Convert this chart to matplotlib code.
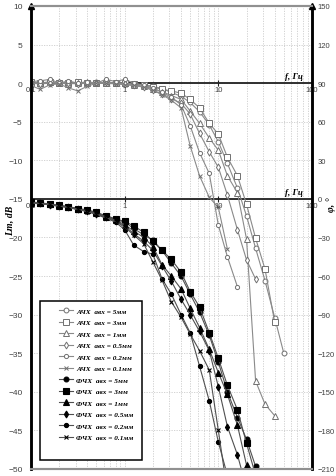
import matplotlib
matplotlib.use('Agg')
import matplotlib.pyplot as plt
from matplotlib.patches import Rectangle
from matplotlib.transforms import blended_transform_factory

# frequency grid, Hz (1/10 decade steps)
freq = [0.1, 0.125, 0.16, 0.2, 0.25, 0.315, 0.4, 0.5, 0.63, 0.8, 1.0, 1.25, 1.6, 2.0,
        2.5, 3.15, 4.0, 5.0, 6.3, 8.0, 10.0, 12.5, 16.0, 20.0, 25.0, 31.5, 40.0, 50.0]

# amplitude response (АЧХ), dB
ach_5 = [0, 0.1, 0, 0, 0.1, 0, 0, 0.1, 0.1, 0, 0, -0.1, -0.2, -0.4, -0.7, -1.2, -1.7, -2.5,
         -3.7, -5.4, -7.6, -10.4, -13.6, -17.2, -21.4, -25.6, -30.4, -35.0]
ach_3 = [0.1, 0, 0.2, 0, 0, 0.1, 0, 0, 0, 0, 0, -0.1, -0.2, -0.5, -0.8, -1.0, -1.3, -2.1,
         -3.2, -5.2, -6.6, -9.6, -12.0, -15.7, -20.1, -24.1, -31.0]
ach_1 = [0, 0, 0.1, 0, -0.1, 0, 0.1, 0, 0, 0, 0, -0.2, -0.4, -0.7, -1.1, -1.6, -2.1, -3.6,
         -5.2, -7.1, -8.7, -12.0, -14.2, -20.2, -38.6, -41.6, -43.1]
ach_05 = [0, -0.1, 0, 0.1, 0, -0.1, 0, 0, 0.1, 0, -0.1, -0.3, -0.5, -0.9, -1.4, -2.0, -2.6,
          -4.0, -6.5, -8.9, -10.9, -14.5, -19.0, -22.9, -25.4]
ach_02 = [0.2, 0.3, 0.5, 0, 0.3, 0, 0.2, 0, 0.5, 0.2, 0.5, 0, -0.3, -0.6, -1.2, -1.8, -2.8,
          -5.5, -9.0, -11.7, -18.4, -22.5, -26.4]
ach_01 = [-0.3, -0.8, -0.2, -0.1, -0.6, -1.0, -0.4, 0, 0, -0.1, -0.2, -0.3, -0.5, -0.9,
          -1.5, -2.2, -3.2, -8.1, -12.0, -14.8, -16.1, -21.5]

# phase response (ФЧХ), degrees
fch_5 = [-2.5, -3.5, -4, -5.5, -6, -7.5, -9, -11, -13.5, -16, -18, -23, -28, -32, -40, -50,
         -60, -74, -88, -106, -127, -150, -170, -187, -208]
fch_3 = [-2.5, -3, -4, -5, -6, -7.5, -8.5, -10.5, -13, -15.5, -17.5, -21, -26, -33, -40, -47,
         -57, -72, -84, -104, -124, -145, -164, -190, -215]
fch_1 = [-3, -3.5, -4, -5.5, -6, -8, -9, -11, -14, -16.5, -20, -25, -30, -37, -51, -60, -70,
         -85, -100, -117, -135, -152, -176, -207, -225]
fch_05 = [-3, -3.5, -4.5, -5.5, -6.5, -8, -9.5, -11.5, -14, -17, -21, -27, -33, -40, -52, -64,
          -78, -90, -103, -118, -146, -177, -199, -225]
fch_02 = [-3, -4, -4.5, -6, -6.5, -8.5, -9.5, -12, -15, -18, -24, -36, -41, -43, -62, -74,
          -90, -104, -130, -157, -189, -215]
fch_01 = [-3, -3.5, -4, -5.5, -6.5, -8, -10, -12, -14.5, -17.5, -22, -28, -35, -49, -63, -80,
          -92, -105, -118, -133, -180, -228]

amps = ['5', '3', '1', '0.5', '0.2', '0.1']
ach = [ach_5, ach_3, ach_1, ach_05, ach_02, ach_01]
fch = [fch_5, fch_3, fch_1, fch_05, fch_02, fch_01]
mk = ['o', 's', '^', 'd', 'o', 'x']
ms = [3.5, 4, 3.8, 3.5, 3, 3.5]

serif = 'Liberation Serif'
sans = 'Liberation Sans'

fig = plt.figure(figsize=(3.36, 4.77), dpi=100)
ax = fig.add_axes([31/336, 7/477, 281/336, 463/477])
ax2 = ax.twinx()

ax.set_xscale('log')
ax.set_xlim(0.1, 100)
ax.set_ylim(-50, 10)
ax2.set_ylim(-210, 150)
ax.set_yticks(range(-50, 11, 5))
ax2.set_yticks(range(-210, 151, 30))
ax.set_xticks([])
ax.set_xticks([], minor=True)

# dotted grid
minors = [m * 10.0**e for e in (-1, 0, 1) for m in range(1, 10)] + [100]
for v in minors:
    ax.axvline(v, color='#cccccc', lw=0.6, ls=(0, (1.5, 1.5)), zorder=0)
for v in range(-45, 10, 5):
    ax.axhline(v, color='#cccccc', lw=0.6, ls=(0, (1.5, 1.5)), zorder=0)

ax.tick_params(axis='y', length=0, pad=6, labelsize=6, labelcolor='#404040')
ax2.tick_params(axis='y', length=0, pad=4, labelsize=5.5, labelcolor='#404040')
for lab in ax.get_yticklabels() + ax2.get_yticklabels():
    lab.set_family(sans)

for a in (ax, ax2):
    a.spines['left'].set_linewidth(1.8)
    a.spines['right'].set_linewidth(1.8)
    a.spines['top'].set_color('#909090')
    a.spines['top'].set_linewidth(1.5)
    a.spines['bottom'].set_color('#909090')
    a.spines['bottom'].set_linewidth(1.5)

# frequency axes at 0 dB and at 0 degrees (-15 dB)
decades = [0.1, 1, 10, 100]
dec_lab = ['0.1', '1', '10', '100']
trans = blended_transform_factory(ax.transAxes, ax.transData)
for base in (0, -15):
    ax.axhline(base, color='#202020', lw=1.3, zorder=1)
    ax.plot(decades, [base] * 4, '|', color='#202020', ms=4, mew=0.8, clip_on=False)
    for d, t in zip(decades, dec_lab):
        ax.annotate(t, (d, base), xytext=(0, -2), textcoords='offset points',
                    ha='center', va='top', fontsize=5.5, family=sans, color='#404040')
    ax.annotate('f, Гц', (0.968, base), xycoords=trans, xytext=(0, 2),
                textcoords='offset points', ha='right', va='bottom', fontsize=6.5,
                family=serif, style='italic', weight='bold')

handles = []
for i in range(6):
    h, = ax.plot(freq[:len(ach[i])], ach[i], color='#8a8a8a', lw=0.8, marker=mk[i], ms=ms[i],
                 mfc='white', mec='#707070', mew=0.7, label='АЧХ  aвх = %sмм' % amps[i])
    handles.append(h)
for i in range(6):
    h, = ax2.plot(freq[:len(fch[i])], fch[i], color='#505050', lw=0.8, marker=mk[i], ms=ms[i],
                  mfc='black', mec='black', mew=0.8, label='ФЧХ  aвх = %sмм' % amps[i])
    handles.append(h)

# arrows on vertical axes
for xa in (0, 1):
    ax2.plot([xa], [1], marker='^', color='black', ms=4, transform=ax2.transAxes, clip_on=False)

# legend box
fig.patches.append(Rectangle((40/336, 1 - 461/477), 102/336, 159/477, transform=fig.transFigure,
                             facecolor='white', edgecolor='black', lw=1.1, zorder=5))
leg = fig.legend(handles=handles, loc='upper left', bbox_to_anchor=(53/336, 1 - 303/477),
                 frameon=False, prop={'family': serif, 'style': 'italic', 'weight': 'bold', 'size': 5.2},
                 handlelength=2.0, handletextpad=0.4, labelspacing=0.75, borderpad=0.3)
leg.set_zorder(6)

fig.text(10/336, 1 - 221/477, 'Lт, dB', rotation=90, ha='center', va='center',
         fontsize=7, family=serif, style='italic', weight='bold')
fig.text(331/336, 1 - 205/477, 'φ, °', rotation=90, ha='center', va='center',
         fontsize=7, family=serif, style='italic', weight='bold')

plt.savefig('out.png', dpi=100)
